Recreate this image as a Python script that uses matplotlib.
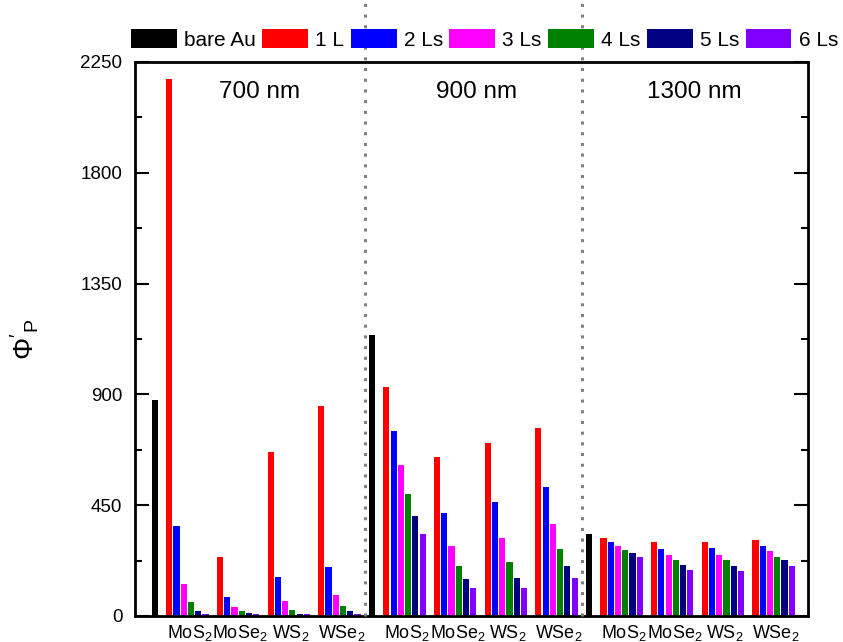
import numpy as np
import matplotlib.pyplot as plt
from matplotlib.ticker import MultipleLocator

plt.rcParams['font.family'] = ['Liberation Sans', 'DejaVu Sans']
plt.rcParams['mathtext.fontset'] = 'custom'
plt.rcParams['mathtext.rm'] = 'Liberation Sans'
plt.rcParams['mathtext.it'] = 'Liberation Sans:italic'
plt.rcParams['mathtext.bf'] = 'Liberation Sans:bold'

# ----------------------------- 数据 -----------------------------
wavelengths = ['700 nm', '900 nm', '1300 nm']
materials = [r'MoS$_2$', r'MoSe$_2$', r'WS$_2$', r'WSe$_2$']
series_labels = ['bare Au', '1 L', '2 Ls', '3 Ls', '4 Ls', '5 Ls', '6 Ls']
colors = ['#000000', '#FF0000', '#0000FF', '#FF00FF', '#008000', '#000080', '#8000FF']

bare_au = [877, 1143, 334]

# 每个波长: 4 种材料 x 6 层 (1 L ... 6 Ls)
phi_700 = [[2180, 366, 130, 56, 22, 8],
           [238, 76, 37, 20, 14, 10],
           [667, 157, 61, 24, 10, 7],
           [853, 199, 84, 41, 20, 8]]
phi_900 = [[929, 750, 612, 496, 405, 332],
           [647, 418, 284, 203, 150, 114],
           [703, 463, 316, 219, 156, 112],
           [762, 524, 374, 273, 203, 154]]
phi_1300 = [[316, 301, 284, 268, 256, 240],
            [301, 273, 248, 227, 207, 187],
            [301, 276, 248, 227, 203, 184],
            [307, 284, 263, 240, 226, 203]]
phi_all = [phi_700, phi_900, phi_1300]

# ----------------------------- 画图 -----------------------------
fig = plt.figure(figsize=(8.43, 6.42), dpi=100)
ax = fig.add_axes([0.160, 0.0405, 0.798, 0.863])

sec_w = 30          # 每个波长区间的宽度 (单位: 柱距)
bw = 0.85
tick_pos, tick_lab = [], []
for s, phi in enumerate(phi_all):
    x0 = s * sec_w
    ax.bar(x0, bare_au[s], width=bw, color=colors[0],
           label=series_labels[0] if s == 0 else None)
    for m, vals in enumerate(phi):
        xs = x0 + 2 + 7 * m + np.arange(6)
        for l in range(6):
            ax.bar(xs[l], vals[l], width=bw, color=colors[l + 1],
                   label=series_labels[l + 1] if (s == 0 and m == 0) else None)
        tick_pos.append(xs.mean() + 0.3)
        tick_lab.append(materials[m])
    ax.text(x0 + 14.5, 2130, wavelengths[s], ha='center', va='center', fontsize=17.5)

for xsep in [29, 59]:
    ax.axvline(xsep, ymin=0, ymax=1.112, color='#808080', ls=(0, (1, 2.5)),
               lw=2.2, clip_on=False, zorder=5)

ax.set_xlim(-2.76, 90.2)
ax.set_ylim(0, 2250)
ax.set_xticks(tick_pos)
ax.set_xticklabels(tick_lab, fontsize=13)
ax.set_yticks([0, 450, 900, 1350, 1800, 2250])
ax.yaxis.set_minor_locator(MultipleLocator(225))
ax.tick_params(axis='x', length=0, pad=5)
ax.tick_params(axis='y', which='major', direction='in', length=10, width=1.5,
               labelsize=13.5, pad=9, right=True)
ax.tick_params(axis='y', which='minor', direction='in', length=5, width=1.5, right=True)
for sp in ax.spines.values():
    sp.set_linewidth(2)

ax.set_ylabel(r"$\Phi'_{\rm P}$", fontsize=20, labelpad=28)

handles, labels = ax.get_legend_handles_labels()
fig.legend(handles, labels, loc='center', bbox_to_anchor=(0.5748, 0.939), ncol=7,
           frameon=False, fontsize=15, handlelength=2.2, handleheight=1.05,
           handletextpad=0.35, columnspacing=0.3, borderaxespad=0)

fig.savefig("out.png", dpi=100)
